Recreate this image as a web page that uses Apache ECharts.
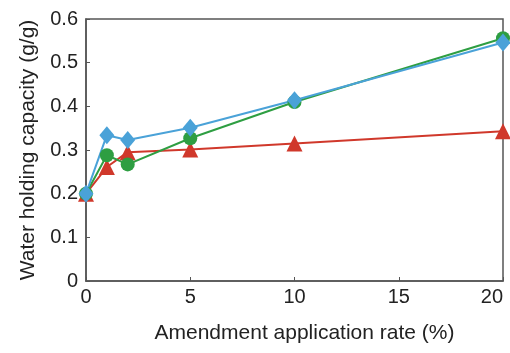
<!DOCTYPE html>
<html>
<head>
<meta charset="utf-8">
<script src="https://cdn.jsdelivr.net/npm/echarts@6/dist/echarts.min.js"></script>
<style>
  html, body { margin: 0; padding: 0; background: #fff; }
  #chart { width: 510px; height: 353px; }
</style>
</head>
<body>
<div id="chart"></div>
<script>
// amendment rate (%) on x, water holding capacity (g/g) on y
var rates = [0, 1, 2, 5, 10, 20];
var redVals = [0.200, 0.261, 0.295, 0.301, 0.315, 0.343];
var greenVals = [0.200, 0.288, 0.267, 0.327, 0.410, 0.556];
var blueVals = [0.200, 0.334, 0.323, 0.351, 0.414, 0.546];

function pairs(vals) {
	var out = [];
	for (var i = 0; i < rates.length; i++) {
		out.push([rates[i], vals[i]]);
	}
	return out;
}

var chart = echarts.init(document.getElementById('chart'));
var fontFam = 'Liberation Sans, Arial, sans-serif';
var axisCol = '#555';

var option = {
	backgroundColor: '#fff',
	animation: false,
	grid: {
		left: 86,
		right: 7,
		top: 19,
		bottom: 72,
		outerBoundsMode: 'none',
		containLabel: false,
		show: true,
		borderColor: axisCol,
		borderWidth: 1.5
	},
	xAxis: {
		type: 'value',
		min: 0,
		max: 20,
		interval: 5,
		name: 'Amendment application rate (%)',
		nameLocation: 'middle',
		nameGap: 42,
		nameTextStyle: { fontSize: 21, color: '#222', fontFamily: fontFam, padding: [0, 0, 0, 20] },
		axisLine: { lineStyle: { color: axisCol, width: 1.5 } },
		axisTick: { inside: true, length: 4, lineStyle: { color: axisCol } },
		axisLabel: { fontSize: 20, color: '#222', fontFamily: fontFam, margin: 6, alignMaxLabel: 'right' },
		splitLine: { show: false }
	},
	yAxis: {
		type: 'value',
		min: 0,
		max: 0.6,
		interval: 0.1,
		name: 'Water holding capacity (g/g)',
		nameLocation: 'middle',
		nameGap: 47,
		nameTextStyle: { fontSize: 21, color: '#222', fontFamily: fontFam },
		axisLine: { show: true, lineStyle: { color: axisCol, width: 1.5 } },
		axisTick: { show: true, inside: true, length: 4, lineStyle: { color: axisCol } },
		axisLabel: { fontSize: 20, color: '#222', fontFamily: fontFam, margin: 8 },
		splitLine: { show: false }
	},
	series: [
		{
			name: 'red',
			type: 'line',
			data: pairs(redVals),
			symbol: 'triangle',
			symbolSize: 16,
			clip: false,
			itemStyle: { color: '#d0382b' },
			lineStyle: { color: '#d0382b', width: 2 }
		},
		{
			name: 'green',
			type: 'line',
			data: pairs(greenVals),
			symbol: 'circle',
			symbolSize: 14,
			clip: false,
			itemStyle: { color: '#2e9e42' },
			lineStyle: { color: '#2e9e42', width: 2 }
		},
		{
			name: 'blue',
			type: 'line',
			data: pairs(blueVals),
			symbol: 'diamond',
			symbolSize: [15, 18],
			clip: false,
			itemStyle: { color: '#4aa2d8' },
			lineStyle: { color: '#4aa2d8', width: 2 }
		}
	]
};

chart.setOption(option);
</script>
</body>
</html>
